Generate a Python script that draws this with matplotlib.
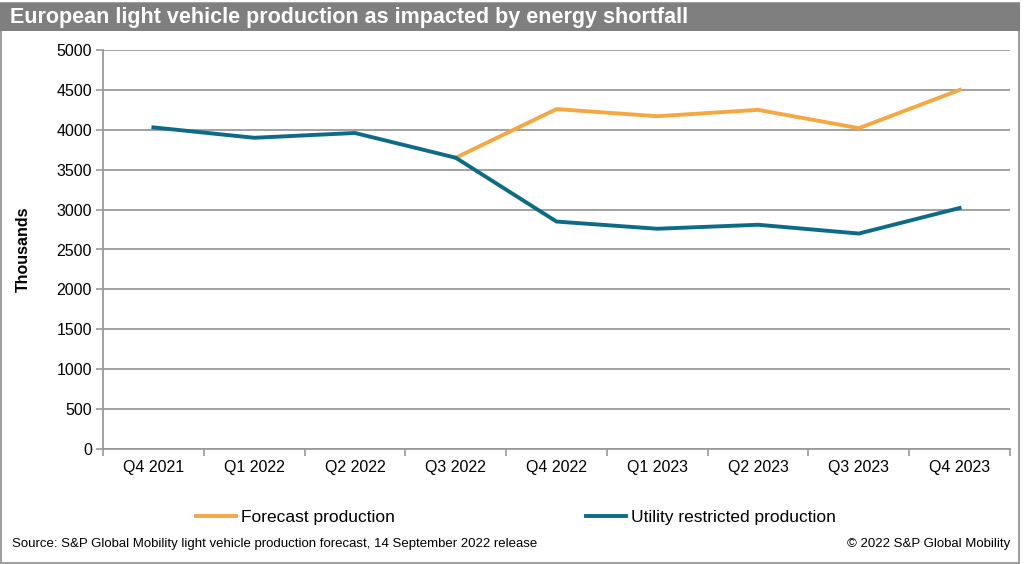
import matplotlib.pyplot as plt
from matplotlib.patches import Rectangle
import numpy as np

plt.rcParams['font.family'] = ['Liberation Sans', 'DejaVu Sans']

quarters = ['Q4 2021', 'Q1 2022', 'Q2 2022', 'Q3 2022', 'Q4 2022',
            'Q1 2023', 'Q2 2023', 'Q3 2023', 'Q4 2023']
forecast = [4030, 3900, 3960, 3650, 4260, 4170, 4250, 4020, 4500]
restricted = [4030, 3900, 3960, 3650, 2850, 2760, 2810, 2700, 3020]

orange = '#F5A742'
teal = '#0D6B86'
grid_c = '#9A9A9A'

fig = plt.figure(figsize=(10.24, 5.64), dpi=100)
W, H = 1024, 564

# outer border and title bar
fig.patches.append(Rectangle((1 / W, 1 / H), 1018 / W, 560 / H, transform=fig.transFigure,
                             fill=False, edgecolor='#A0A0A0', linewidth=1.5))
fig.patches.append(Rectangle((0, (H - 31) / H), 1020 / W, 28 / H, transform=fig.transFigure,
                             facecolor='#7F7F7F', edgecolor='none'))
fig.text(10 / W, (H - 17) / H, 'European light vehicle production as impacted by energy shortfall',
         color='white', fontsize=15.5, fontweight='bold', va='center', ha='left')

ax = fig.add_axes([103 / W, (H - 449) / H, 907 / W, 399 / H])
x = np.arange(len(quarters))
ax.plot(x[3:], forecast[3:], color=orange, linewidth=2.8, solid_joinstyle='round',
        label='Forecast production')
ax.plot(x, restricted, color=teal, linewidth=2.8, solid_joinstyle='round',
        label='Utility restricted production')

ax.set_xlim(-0.5, len(quarters) - 0.5)
ax.set_ylim(0, 5000)
ax.set_yticks(np.arange(0, 5001, 500))
ax.set_xticks(x)
ax.set_xticklabels(quarters)
ax.set_xticks(np.arange(-0.5, len(quarters), 1), minor=True)
ax.tick_params(axis='x', which='major', length=0, pad=8, labelsize=11.5)
ax.tick_params(axis='x', which='minor', length=5, color=grid_c, width=1.2)
ax.tick_params(axis='y', length=5, color=grid_c, width=1.2, labelsize=11.5, pad=3)
ax.yaxis.grid(True, color=grid_c, linewidth=1.3)
ax.set_axisbelow(True)
for s in ['top', 'right']:
    ax.spines[s].set_visible(False)
ax.spines['left'].set_color(grid_c)
ax.spines['bottom'].set_color(grid_c)
ax.spines['left'].set_linewidth(1.3)
ax.spines['bottom'].set_linewidth(1.3)
ax.set_ylabel('Thousands', fontsize=11.5, fontweight='bold', labelpad=18)

h, l = ax.get_legend_handles_labels()
fig.legend(h, l, loc='center', bbox_to_anchor=(516 / W, (H - 517) / H), ncol=2,
           frameon=False, fontsize=12.5, handlelength=2.3, handletextpad=0.3,
           columnspacing=11)

fig.text(12 / W, (H - 544) / H,
         'Source: S&P Global Mobility light vehicle production forecast, 14 September 2022 release',
         fontsize=9.5, va='center', ha='left')
fig.text(1010 / W, (H - 544) / H, '\u00a9 2022 S&P Global Mobility',
         fontsize=9.5, va='center', ha='right')

fig.savefig('out.png', dpi=100)
